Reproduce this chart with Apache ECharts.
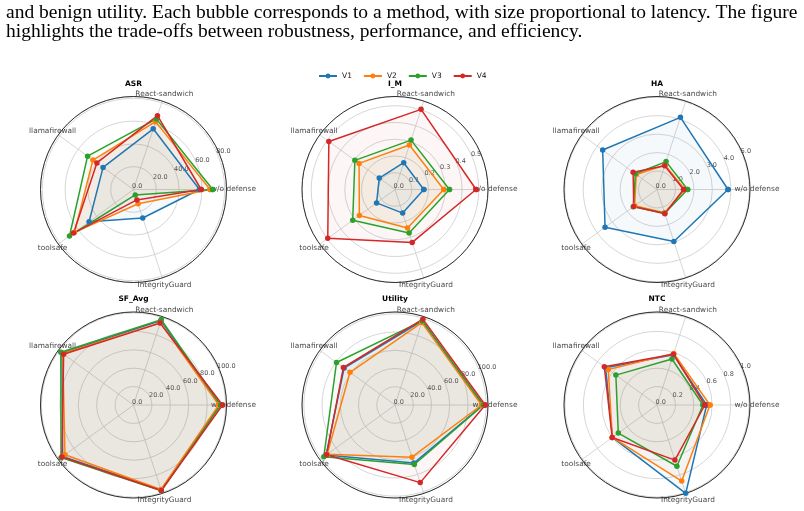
<!DOCTYPE html>
<html><head><meta charset="utf-8">
<script src="https://cdn.jsdelivr.net/npm/echarts@6.0.0/dist/echarts.min.js"></script>
<style>html,body{margin:0;padding:0;background:#fff}#c{width:804px;height:511px}</style>
</head><body><div id="c"></div>
<script>
// ---------- data ----------
const categories = ['w/o defense', 'React-sandwich', 'llamafirewall', 'toolsafe', 'IntegrityGuard'];
const seriesNames = ['V1', 'V2', 'V3', 'V4'];
const metricNames = ['ASR', 'I_M', 'HA', 'SF_Avg', 'Utility', 'NTC'];

const ASR = [
  [57.9, 56.0, 33.0, 48.2, 26.3],
  [67.2, 62.6, 44.0, 64.0, 13.2],
  [69.5, 65.1, 49.8, 69.4, 5.0],
  [59.4, 68.1, 39.7, 65.0, 9.6]
];
const I_M = [
  [0.172, 0.168, 0.116, 0.136, 0.148],
  [0.291, 0.279, 0.265, 0.263, 0.242],
  [0.325, 0.310, 0.296, 0.312, 0.273],
  [0.484, 0.503, 0.488, 0.496, 0.332]
];
const HA = [
  [3.85, 4.11, 3.64, 3.48, 2.96],
  [1.51, 1.40, 1.39, 1.50, 1.33],
  [1.66, 1.59, 1.45, 1.59, 1.35],
  [1.44, 1.35, 1.60, 1.56, 1.38]
];
const SF_Avg = [
  [93.5, 96.5, 96.0, 95.0, 97.0],
  [92.7, 94.0, 95.0, 92.0, 96.5],
  [94.6, 97.5, 97.6, 97.3, 98.0],
  [96.7, 93.5, 93.8, 96.0, 97.7]
];
const Utility = [
  [96.5, 97.0, 69.0, 93.5, 67.0],
  [95.0, 95.0, 61.0, 92.0, 60.2],
  [97.0, 97.0, 79.3, 96.5, 68.6],
  [99.0, 99.0, 70.0, 92.7, 89.5]
];
const NTC = [
  [0.54, 0.575, 0.69, 0.60, 1.01],
  [0.576, 0.59, 0.655, 0.60, 0.87],
  [0.50, 0.526, 0.553, 0.52, 0.70],
  [0.52, 0.58, 0.708, 0.602, 0.63]
];

// radial tick labels and axis limits
const ASR_ticks = [0, 20, 40, 60, 80];
const I_M_ticks = [0, 0.1, 0.2, 0.3, 0.4, 0.5];
const HA_ticks = [0, 1, 2, 3, 4, 5];
const SF_Avg_ticks = [0, 20, 40, 60, 80, 100];
const Utility_ticks = [0, 20, 40, 60, 80, 100];
const NTC_ticks = [0, 0.2, 0.4, 0.6, 0.8, 1.0];
const radialMax = [81.6, 0.555, 5.04, 101, 102, 1.011];
const radialStep = [20, 0.1, 1, 20, 20, 0.2];

const captionLines = [
  'and benign utility. Each bubble corresponds to a method, with size proportional to latency. The figure',
  'highlights the trade-offs between robustness, performance, and efficiency.'
];

// ---------- layout / style ----------
const metricData = [ASR, I_M, HA, SF_Avg, Utility, NTC];
const metricTicks = [ASR_ticks, I_M_ticks, HA_ticks, SF_Avg_ticks, Utility_ticks, NTC_ticks];
const colors = ['#1f77b4', '#ff7f0e', '#2ca02c', '#d62728'];
const centers = [[133.5, 189.5], [395, 189.5], [657, 189.5], [133.5, 405], [395, 405], [657, 405]];
const titleY = [84, 84, 84, 299, 299, 299];
const R = 93;
const FONT = 'DejaVu Sans';
const angleOf = k => k * 360 / categories.length;

const polar = centers.map(c => ({ center: c, radius: R }));
const angleAxis = centers.map((c, i) => ({
  polarIndex: i, type: 'value', min: 0, max: 360, interval: 72,
  startAngle: 0, clockwise: false, z: 1,
  axisLine: { show: true, lineStyle: { color: '#1a1a1a', width: 0.9 } },
  axisTick: { show: false }, axisLabel: { show: false },
  splitLine: { show: true, lineStyle: { color: '#cccccc', width: 0.8 } }
}));
const radiusAxis = metricNames.map((m, i) => ({
  polarIndex: i, type: 'value', min: 0, max: radialMax[i], interval: radialStep[i], z: 0,
  axisLine: { show: false }, axisTick: { show: false }, axisLabel: { show: false },
  splitLine: { show: true, lineStyle: { color: '#cccccc', width: 0.8 } }
}));

const series = [];
metricNames.forEach((m, i) => {
  // radial tick labels
  series.push({
    type: 'scatter', coordinateSystem: 'polar', polarIndex: i, symbolSize: 0, silent: true,
    clip: false, z: 1, animation: false,
    data: metricTicks[i].map(t => [t, 22.5]),
    label: {
      show: true, position: 'inside', align: 'left', verticalAlign: 'middle', offset: [-1.5, -3],
      formatter: p => p.value[0].toFixed(1), fontSize: 6.5, color: '#1a1a1a', fontFamily: FONT
    }
  });
  // category labels
  series.push({
    type: 'scatter', coordinateSystem: 'polar', polarIndex: i, symbolSize: 0, silent: true,
    clip: false, z: 1, animation: false,
    data: categories.map((c, k) => {
      const a = angleOf(k) * Math.PI / 180;
      return { value: [radialMax[i], angleOf(k)], label: { offset: [7 * Math.cos(a), -7 * Math.sin(a)] } };
    }),
    label: {
      show: true, position: 'inside', align: 'center', verticalAlign: 'middle',
      formatter: p => categories[p.dataIndex], fontSize: 7.4, color: '#111', fontFamily: FONT
    }
  });
  metricData[i].forEach((vals, s) => {
    const closed = vals.concat([vals[0]]);
    series.push({
      type: 'line', name: seriesNames[s], coordinateSystem: 'polar', polarIndex: i,
      data: closed.map((v, k) => [v, angleOf(k)]),
      symbol: 'circle', symbolSize: 5.5, clip: false, z: 2, animation: false,
      lineStyle: { color: colors[s], width: 1.5 },
      itemStyle: { color: colors[s] },
      areaStyle: { color: colors[s], opacity: 0.045 }
    });
  });
});

const graphic = [];
captionLines.forEach((t, k) => graphic.push({
  type: 'text', x: 6, y: 12.7 + k * 19, silent: true,
  style: { text: t, fontFamily: 'Liberation Serif', fontSize: 19.5, fill: '#000', align: 'left', verticalAlign: 'middle' }
}));
metricNames.forEach((m, i) => graphic.push({
  type: 'text', x: centers[i][0], y: titleY[i], silent: true,
  style: { text: m, fontFamily: FONT, fontSize: 7.5, fontWeight: 'bold', fill: '#000', align: 'center', verticalAlign: 'middle' }
}));

const chart = echarts.init(document.getElementById('c'), null, { renderer: 'canvas' });
chart.setOption({
  animation: false,
  backgroundColor: '#fff',
  color: colors,
  legend: {
    data: seriesNames, left: 318, top: 72, itemWidth: 18, itemHeight: 6, itemGap: 11,
    padding: 0,
    textStyle: { fontSize: 7.5, color: '#111', fontFamily: FONT }
  },
  polar, angleAxis, radiusAxis, series, graphic
});
</script></body></html>
